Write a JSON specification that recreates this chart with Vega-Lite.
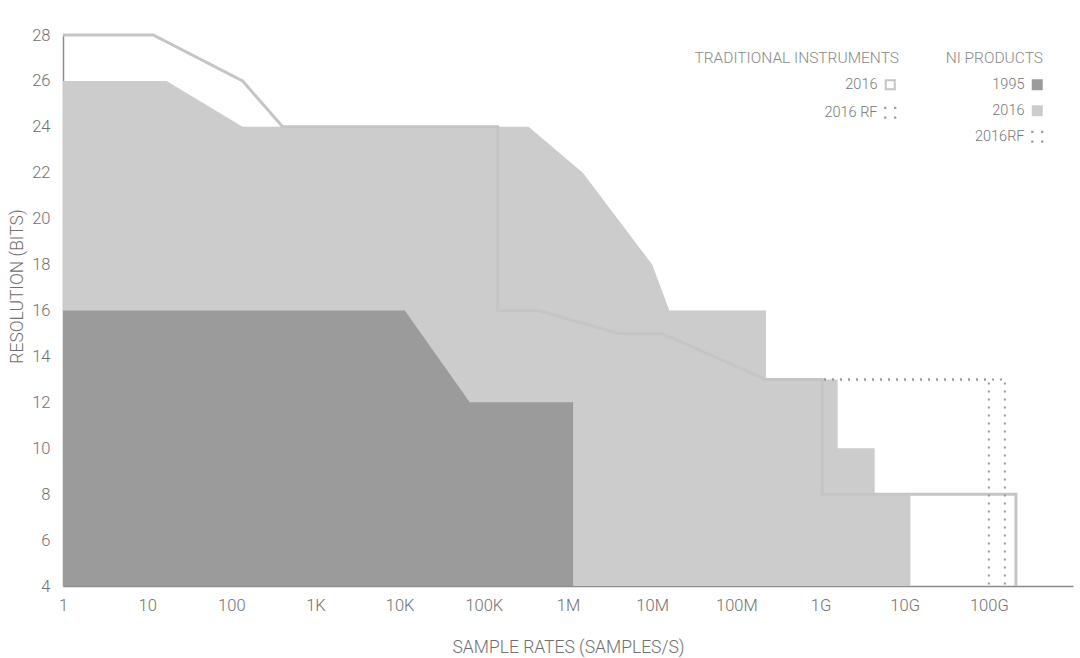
{
  "$schema": "https://vega.github.io/schema/vega-lite/v6.json",
  "width": 1010,
  "height": 551,
  "autosize": {"type": "none"},
  "padding": {"left": 63, "top": 35, "right": 7, "bottom": 72},
  "background": "white",
  "config": {
    "view": {"stroke": null},
    "font": "Roboto",
    "axis": {
      "grid": false,
      "ticks": false,
      "zindex": 1,
      "domainColor": "#8c8c8c",
      "domainWidth": 1.5,
      "labelColor": "#707070",
      "labelFont": "Roboto",
      "labelFontWeight": 300,
      "labelFontSize": 16.5,
      "titleColor": "#707070",
      "titleFont": "Roboto",
      "titleFontWeight": 300,
      "titleFontSize": 17.5
    },
    "legend": {
      "orient": "none",
      "padding": 0,
      "titleFont": "Roboto",
      "titleFontWeight": 300,
      "titleFontSize": 15.5,
      "titleColor": "#888888",
      "titleLimit": 400,
      "labelFont": "Roboto",
      "labelFontWeight": 300,
      "labelFontSize": 14.5,
      "labelColor": "#777777",
      "labelAlign": "right",
      "labelOffset": -20,
      "titleAnchor": "end",
      "titlePadding": 11,
      "rowPadding": 11,
      "symbolSize": 121
    }
  },
  "datasets": {
    "ni2016": [
      {"series": "2016", "rate": 1, "bits": 26},
      {"series": "2016", "rate": 17, "bits": 26},
      {"series": "2016", "rate": 136, "bits": 24},
      {"series": "2016", "rate": 340000, "bits": 24},
      {"series": "2016", "rate": 1500000, "bits": 22},
      {"series": "2016", "rate": 10000000, "bits": 18},
      {"series": "2016", "rate": 16000000, "bits": 16},
      {"series": "2016", "rate": 225000000, "bits": 16},
      {"series": "2016", "rate": 225000000, "bits": 13},
      {"series": "2016", "rate": 1600000000, "bits": 13},
      {"series": "2016", "rate": 1600000000, "bits": 10},
      {"series": "2016", "rate": 4400000000, "bits": 10},
      {"series": "2016", "rate": 4400000000, "bits": 8},
      {"series": "2016", "rate": 11700000000, "bits": 8}
    ],
    "ni1995": [
      {"series": "1995", "rate": 1, "bits": 16},
      {"series": "1995", "rate": 11500, "bits": 16},
      {"series": "1995", "rate": 68000, "bits": 12},
      {"series": "1995", "rate": 1150000, "bits": 12}
    ],
    "nirf": [
      {"series": "2016RF", "i": 0, "rate": 1100000000, "bits": 13},
      {"series": "2016RF", "i": 1, "rate": 155000000000, "bits": 13},
      {"series": "2016RF", "i": 2, "rate": 155000000000, "bits": 4}
    ],
    "trad": [
      {"series": "2016", "i": 0, "rate": 1, "bits": 28},
      {"series": "2016", "i": 1, "rate": 11.8, "bits": 28},
      {"series": "2016", "i": 2, "rate": 136, "bits": 26},
      {"series": "2016", "i": 3, "rate": 407, "bits": 24},
      {"series": "2016", "i": 4, "rate": 146000, "bits": 24},
      {"series": "2016", "i": 5, "rate": 146000, "bits": 16},
      {"series": "2016", "i": 6, "rate": 445000, "bits": 16},
      {"series": "2016", "i": 7, "rate": 4000000, "bits": 15},
      {"series": "2016", "i": 8, "rate": 13000000, "bits": 15},
      {"series": "2016", "i": 9, "rate": 224000000, "bits": 13},
      {"series": "2016", "i": 10, "rate": 1050000000, "bits": 13},
      {"series": "2016", "i": 11, "rate": 1050000000, "bits": 8},
      {"series": "2016", "i": 12, "rate": 210000000000, "bits": 8},
      {"series": "2016", "i": 13, "rate": 210000000000, "bits": 4}
    ],
    "tradrf": [
      {"series": "2016 RF", "i": 0, "rate": 1100000000, "bits": 13},
      {"series": "2016 RF", "i": 1, "rate": 100000000000, "bits": 13},
      {"series": "2016 RF", "i": 2, "rate": 100000000000, "bits": 4}
    ]
  },
  "encoding": {
    "x": {
      "field": "rate",
      "type": "quantitative",
      "title": "SAMPLE RATES (SAMPLES/S)",
      "scale": {"type": "log", "domain": [1, 1000000000000], "nice": false},
      "axis": {
        "values": [1, 10, 100, 1000, 10000, 100000, 1000000, 10000000, 100000000, 1000000000, 10000000000, 100000000000],
        "labelExpr": "datum.value >= 1e9 ? format(datum.value/1e9, 'd') + 'G' : datum.value >= 1e6 ? format(datum.value/1e6, 'd') + 'M' : datum.value >= 1e3 ? format(datum.value/1e3, 'd') + 'K' : format(datum.value, 'd')",
        "labelPadding": 11,
        "labelFlush": false,
        "labelOverlap": false,
        "titleBaseline": "middle",
        "titleY": 61
      }
    },
    "y": {
      "field": "bits",
      "type": "quantitative",
      "title": "RESOLUTION (BITS)",
      "stack": null,
      "scale": {"domain": [4, 28], "nice": false, "zero": false},
      "axis": {
        "values": [4, 6, 8, 10, 12, 14, 16, 18, 20, 22, 24, 26, 28],
        "labelPadding": 13,
        "labelFlush": false,
        "labelOverlap": false,
        "titleAngle": -90,
        "titleBaseline": "middle",
        "titleAlign": "center",
        "titleX": -46,
        "titleY": 251
      }
    }
  },
  "layer": [
    {
      "data": {"name": "ni2016"},
      "mark": {"type": "area", "color": "#cccccc", "opacity": 1}
    },
    {
      "data": {"name": "ni1995"},
      "mark": {"type": "area", "color": "#9b9b9b", "opacity": 1}
    },
    {
      "data": {"name": "trad"},
      "mark": {"type": "line", "strokeWidth": 3, "interpolate": "linear", "strokeJoin": "miter"},
      "encoding": {
        "order": {"field": "i", "type": "quantitative"},
        "stroke": {
          "field": "series",
          "type": "nominal",
          "title": "TRADITIONAL INSTRUMENTS",
          "scale": {"domain": ["2016", "2016 RF"], "range": ["#c5c5c5", "#999999"]},
          "legend": {
            "legendX": 631,
            "legendY": 16,
            "encode": {
              "symbols": {
                "update": {
                  "shape": {"signal": "datum.value === '2016 RF' ? 'M-1.1,-1.1h0.4v0.4h-0.4zM0.7,-1.1h0.4v0.4h-0.4zM-1.1,0.7h0.4v0.4h-0.4zM0.7,0.7h0.4v0.4h-0.4z' : 'square'"},
                  "fill": {"signal": "datum.value === '2016 RF' ? '#9a9a9a' : 'transparent'"},
                  "stroke": {"signal": "datum.value === '2016 RF' ? 'transparent' : '#c4c4c4'"},
                  "strokeWidth": {"signal": "datum.value === '2016 RF' ? 0 : 2"},
                  "strokeDash": {"value": []},
                  "size": {"signal": "datum.value === '2016 RF' ? 121 : 81"},
                  "opacity": {"value": 1}
                }
              }
            }
          }
        }
      }
    },
    {
      "data": {"name": "tradrf"},
      "mark": {"type": "line", "strokeWidth": 2, "strokeDash": [2, 6]},
      "encoding": {
        "order": {"field": "i", "type": "quantitative"},
        "stroke": {"field": "series", "type": "nominal"}
      }
    },
    {
      "data": {"name": "nirf"},
      "mark": {"type": "line", "strokeWidth": 2, "strokeDash": [2, 6]},
      "encoding": {
        "order": {"field": "i", "type": "quantitative"},
        "color": {
          "field": "series",
          "type": "nominal",
          "title": "NI PRODUCTS",
          "scale": {"domain": ["1995", "2016", "2016RF"], "range": ["#9b9b9b", "#cccccc", "#999999"]},
          "legend": {
            "legendX": 883,
            "legendY": 16,
            "encode": {
              "symbols": {
                "update": {
                  "shape": {"signal": "datum.value === '2016RF' ? 'M-1.1,-1.1h0.4v0.4h-0.4zM0.7,-1.1h0.4v0.4h-0.4zM-1.1,0.7h0.4v0.4h-0.4zM0.7,0.7h0.4v0.4h-0.4z' : 'square'"},
                  "fill": {"signal": "datum.value === '1995' ? '#9b9b9b' : datum.value === '2016' ? '#cccccc' : '#9a9a9a'"},
                  "stroke": {"value": "transparent"},
                  "strokeWidth": {"value": 0},
                  "strokeDash": {"value": []},
                  "size": {"value": 121},
                  "opacity": {"value": 1}
                }
              }
            }
          }
        }
      }
    }
  ]
}
